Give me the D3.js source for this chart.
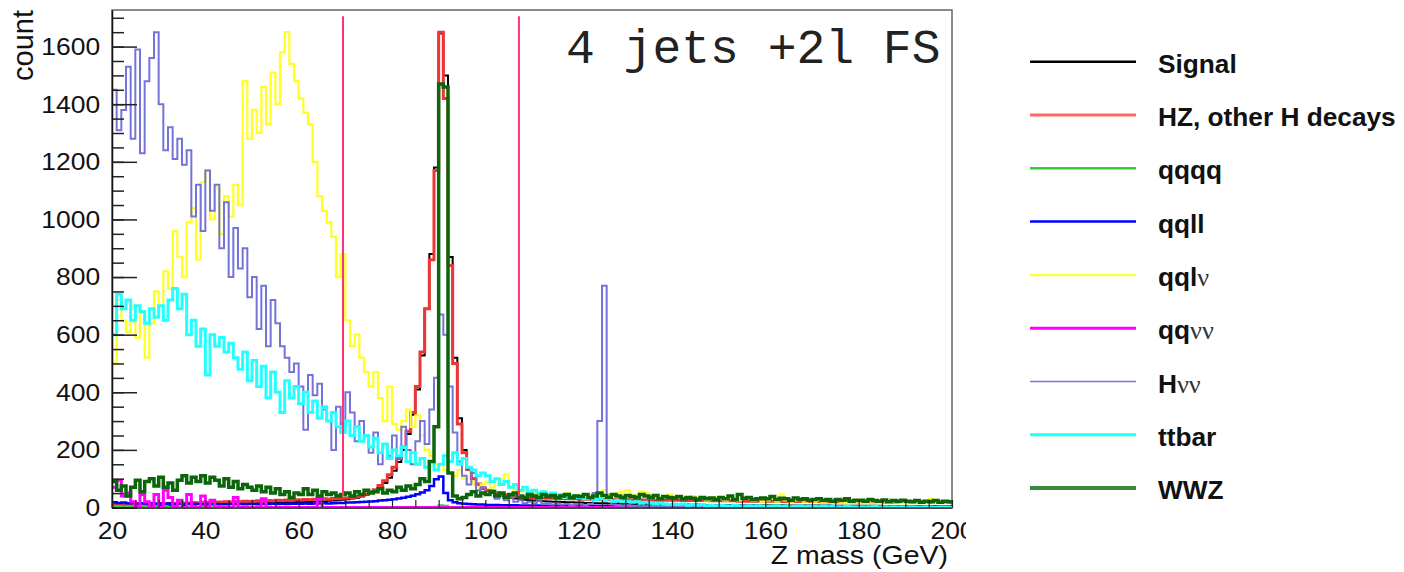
<!DOCTYPE html>
<html><head><meta charset="utf-8">
<script src="https://cdn.jsdelivr.net/npm/d3@7"></script>
<style>body{margin:0;background:#fff} svg{display:block}</style>
</head><body>
<svg id="c" width="1404" height="572"></svg>
<script>
// ---- binning (1 GeV bins, 20..200) ----
const xMin = 20, xMax = 200, binWidth = 1;
const xTicks = [20, 40, 60, 80, 100, 120, 140, 160, 180, 200];
const yTicks = [0, 200, 400, 600, 800, 1000, 1200, 1400, 1600];
const cutLines = [69.5, 107.2];
const cutRange = [40, 1705];
const labelText = "4 jets +2l FS";

const signal = [
 8,6,9,7,8,10,7,9,8,10, 9,11,8,10,12,9,11,10,12,11,
 10,12,11,13,12,14,12,13,15,14, 13,15,14,16,15,17,16,18,17,19,
 18,20,19,21,22,21,23,24,25,27, 29,31,34,38,44,50,58,70,85,103,
 128,158,200,255,322,410,528,690,880,1180, 1645,1500,870,520,310,200,135,100,80,66,
 57,50,45,41,37,34,31,29,27,25, 24,23,22,21,20,20,19,18,18,17,
 17,16,16,15,15,15,14,14,14,13, 13,13,12,12,12,12,11,11,11,11,
 11,10,10,10,10,10,10,9,9,9, 9,9,9,9,9,8,8,8,8,8,
 8,8,8,8,7,7,7,7,7,7, 7,7,7,7,6,6,6,6,6,6,
 6,6,6,6,6,5,5,5,5,5, 5,5,5,5,5,5,5,4,4,4];
const hzOther = [
 10,11,10,12,11,12,13,12,14,13, 14,13,15,14,16,15,16,17,16,18,
 17,18,19,18,20,19,21,20,22,21, 22,23,22,24,23,25,24,26,25,27,
 26,28,27,29,28,30,29,31,30,32, 33,35,38,42,47,54,62,76,93,114,
 140,170,210,265,330,420,540,690,860,1170, 1650,1420,840,500,290,190,132,100,82,68,
 60,54,50,46,43,41,39,37,36,35, 34,33,33,32,32,31,31,30,30,30,
 29,29,29,28,28,28,28,27,27,27, 27,26,26,26,26,26,25,25,25,25,
 25,25,24,24,24,24,24,24,23,23, 23,23,23,23,22,22,22,22,22,22,
 22,22,21,21,21,21,21,21,21,21, 21,21,20,20,20,20,20,20,20,20,
 20,20,20,20,20,19,19,19,19,19, 19,19,19,19,19,19,18,18,18,18];
const qqqq = [
 4,5,3,5,4,3,5,4,3,4, 3,4,3,2,3,2,2,3,2,2,
 2,1,2,2,1,2,1,2,1,2, 1,2,1,1,2,1,1,2,1,1,
 1,2,1,1,1,2,1,1,1,2, 1,1,1,2,1,1,1,1,2,1,
 1,1,2,1,1,1,2,1,2,3, 8,6,2,1,1,1,1,1,1,1,
 1,1,1,1,1,1,0,1,1,0, 1,0,1,1,0,1,0,1,0,1,
 0,1,0,1,0,0,1,0,1,0, 0,1,0,0,1,0,0,1,0,0,
 1,0,0,1,0,0,0,1,0,0, 0,1,0,0,0,1,0,0,0,0,
 1,0,0,0,0,1,0,0,0,0, 0,0,1,0,0,0,0,0,1,0,
 0,0,0,0,1,0,0,0,0,0, 0,0,0,1,0,0,0,0,0,0];
const qqll = [
 18,16,17,15,16,14,15,14,15,13, 14,13,14,12,13,12,13,12,12,11,
 12,11,12,11,11,12,11,12,11,12, 12,11,12,12,13,12,13,12,13,13,
 13,14,13,14,14,15,14,15,16,16, 17,17,18,19,20,21,22,24,25,27,
 29,31,34,37,41,46,52,60,75,98, 108,50,25,18,15,13,12,11,10,10,
 9,9,9,8,8,8,8,7,7,7, 7,7,6,6,6,6,6,6,5,5,
 5,5,5,5,5,5,4,4,4,4, 4,4,4,4,4,4,4,3,3,3,
 3,3,3,3,3,3,3,3,3,3, 3,3,3,3,3,3,3,2,2,2,
 2,2,2,2,2,2,2,2,2,2, 2,2,2,2,2,2,2,2,2,2,
 2,2,2,2,2,2,2,2,2,2, 2,2,2,2,2,2,2,2,2,2];
const qqlv = [
 500,720,650,610,700,590,680,520,640,750, 700,820,760,960,870,800,990,1040,860,1130,
 1170,1000,1110,950,1080,1010,1120,1050,1480,1280, 1380,1300,1460,1330,1510,1400,1580,1650,1540,1480,
 1420,1370,1330,1200,1080,1030,990,940,800,880, 650,560,600,520,470,420,470,380,300,420,
 290,270,300,340,280,320,250,200,180,150, 150,130,120,110,130,100,80,90,70,80,
 90,70,80,100,115,70,60,55,60,50, 50,45,55,40,50,45,35,50,40,45,
 40,45,35,50,40,60,45,40,50,55, 60,45,40,55,50,40,45,35,40,45,
 35,40,30,35,40,30,35,25,30,35, 30,25,35,30,25,30,35,25,30,20,
 25,30,20,45,25,20,25,30,20,25, 20,25,20,30,20,25,20,15,25,20,
 20,15,20,25,15,20,15,20,25,15, 15,20,15,20,15,30,15,20,15,20];
const qqvv = [
 70,95,40,50,20,0,45,20,0,45, 0,60,35,0,25,0,45,0,0,40,
 0,25,0,0,0,0,35,0,0,0, 0,0,30,0,0,0,0,0,0,0,
 0,0,0,0,35,0,0,0,0,0, 0,0,0,0,0,0,0,0,0,0,
 0,0,0,0,0,0,0,0,0,0, 0,0,0,0,0,0,0,0,0,0,
 0,0,0,0,0,0,0,0,0,0, 0,0,0,0,0,0,0,0,0,0,
 0,0,0,0,0,0,0,0,0,0, 0,0,0,0,0,0,0,0,0,0,
 0,0,0,0,0,0,0,0,0,0, 0,0,0,0,0,0,0,0,0,0,
 0,0,0,0,0,0,0,0,0,0, 0,0,0,0,0,0,0,0,0,0,
 0,0,0,0,0,0,0,0,0,0, 0,0,0,0,0,0,0,0,0,0];
const hvv = [
 1450,1310,1380,1530,1280,1590,1230,1480,1560,1650, 1400,1240,1320,1210,1280,1190,1240,1010,1120,960,
 1170,1030,1120,900,1060,800,970,830,900,730, 800,620,770,560,720,640,560,520,470,500,
 420,270,460,390,430,340,300,200,350,290, 400,330,230,300,250,190,260,150,220,180,
 250,170,280,200,150,230,300,220,340,450, 670,600,420,260,160,110,80,120,60,70,
 45,60,30,40,25,35,20,25,15,20, 15,22,12,16,10,14,10,12,8,10,
 10,8,12,50,300,770,30,10,8,6, 8,5,6,4,6,5,3,5,4,3,
 4,3,4,2,3,4,2,3,2,3, 2,3,2,2,3,1,2,2,1,2,
 2,1,2,1,2,1,1,2,1,1, 1,1,0,1,1,0,1,0,1,1,
 0,1,1,0,1,0,0,1,0,1, 1,0,0,1,0,0,1,0,0,1];
const ttbar = [
 600,740,690,720,650,700,680,640,690,660, 700,650,720,760,690,740,600,650,560,620,
 460,600,560,590,540,570,520,480,540,440, 510,420,490,380,470,400,330,440,380,420,
 360,400,330,370,310,350,300,330,280,260, 300,250,280,230,250,210,240,190,220,170,
 200,180,210,160,190,150,170,140,160,130, 150,180,160,190,150,170,140,130,110,120,
 110,90,100,80,90,70,80,60,70,55, 60,50,55,45,50,40,45,35,40,35,
 35,30,35,28,30,25,30,22,25,20, 22,18,20,15,18,15,12,15,12,10,
 12,10,12,8,10,8,10,6,8,6, 8,6,5,8,6,5,6,4,6,5,
 4,5,6,4,5,3,4,5,3,4, 4,3,5,3,4,3,2,4,3,2,
 3,2,3,4,2,3,2,3,2,3, 2,3,2,2,3,2,1,2,2,1];
const wwz = [
 90,60,75,40,70,95,55,90,100,75, 105,70,85,60,95,110,85,105,90,110,
 85,105,95,75,100,70,90,65,80,70, 60,75,55,70,50,65,45,55,35,50,
 45,65,45,60,40,55,45,50,40,45, 50,40,55,45,60,50,55,65,50,60,
 55,70,60,75,65,80,100,90,160,280, 1470,1460,120,40,30,35,45,55,40,50,
 45,55,40,50,35,45,50,40,35,45, 40,35,45,38,42,35,40,45,35,40,
 38,45,35,40,50,42,36,45,40,35, 42,38,35,45,40,36,42,30,38,35,
 33,38,30,35,32,28,35,30,33,28, 35,30,40,28,45,32,35,28,30,33,
 30,38,28,32,30,25,33,28,30,25, 28,30,25,28,22,28,25,30,22,25,
 25,22,28,24,22,26,20,24,22,25, 22,20,24,18,22,20,24,18,22,20];

const seriesNames = ["Signal", "HZ, other H decays", "qqqq", "qqll", "qqlν", "qqνν", "Hνν", "ttbar", "WWZ"];
const seriesValues = [signal, hzOther, qqqq, qqll, qqlv, qqvv, hvv, ttbar, wwz];
const seriesColors = ["#000000", "#ee3535", "#33cc33", "#0000ff", "#ffff22", "#ff00ff", "#7474d8", "#22ffff", "#0b650b"];
const seriesWidths = [2, 3, 2, 2.5, 2.2, 3, 2, 3, 3.5];
const legendColors = ["#000000", "#ff6666", "#33cc33", "#0000ff", "#ffff44", "#ff00ff", "#7777dd", "#22ffff", "#3a8a3a"];
const legendWidths = [2.5, 3, 2.5, 2.5, 2.5, 3, 1.5, 3, 4];

// ---- layout ----
const svg = d3.select("#c");
const L = 112, R = 952, T = 10, B = 507.5;
const x = d3.scaleLinear().domain([xMin, xMax]).range([L, R]);
const y = d3.scaleLinear().domain([0, 1727]).range([B, T]);

svg.append("defs").append("clipPath").attr("id", "frame")
  .append("rect").attr("x", L).attr("y", T).attr("width", R - L).attr("height", B - T);
svg.select("defs").append("clipPath").attr("id", "labclip")
  .append("rect").attr("x", 0).attr("y", 0).attr("width", 966).attr("height", 572);

// frame
svg.append("rect").attr("x", L).attr("y", T).attr("width", R - L).attr("height", B - T)
  .attr("fill", "none").attr("stroke", "#666").attr("stroke-width", 1.5);

// histograms
const plot = svg.append("g").attr("clip-path", "url(#frame)");
const line = d3.line().x(d => x(d[0])).y(d => y(d[1])).curve(d3.curveStepAfter);
seriesValues.forEach((vals, k) => {
  const pts = vals.map((v, i) => [xMin + i * binWidth, v]);
  pts.push([xMin + vals.length * binWidth, vals[vals.length - 1]]);
  plot.append("path").attr("d", line(pts)).attr("fill", "none")
    .attr("stroke", seriesColors[k]).attr("stroke-width", seriesWidths[k])
    .attr("stroke-linejoin", "miter");
});

// cut lines
cutLines.forEach(c => {
  svg.append("line").attr("x1", x(c)).attr("x2", x(c))
    .attr("y1", y(cutRange[0])).attr("y2", y(cutRange[1]))
    .attr("stroke", "#ff3377").attr("stroke-width", 2);
});

// axes
const fontSans = "'Liberation Sans', Arial, Helvetica, sans-serif";
const yMinor = d3.range(0, 1727, 50);
svg.append("g").attr("transform", `translate(${L},0)`)
  .call(d3.axisLeft(y).tickValues(yMinor).tickSize(-12).tickSizeOuter(0).tickFormat(""))
  .call(g => g.select(".domain").remove())
  .selectAll("line").attr("stroke", "#222").attr("stroke-width", 1.5);
const yAx = svg.append("g").attr("transform", `translate(${L},0)`)
  .call(d3.axisLeft(y).tickValues(yTicks).tickSize(-25).tickSizeOuter(0).tickPadding(11).tickFormat(d3.format("d")));
yAx.select(".domain").attr("stroke", "#111").attr("stroke-width", 1.5);
yAx.selectAll("line").attr("stroke", "#222").attr("stroke-width", 1.5);
yAx.selectAll("text").attr("font-family", fontSans).attr("font-size", 24.5).attr("fill", "#111")
  .attr("transform", "scale(1.08,1)");

const xMinor = d3.range(20, 201, 5);
svg.append("g").attr("transform", `translate(0,${B})`)
  .call(d3.axisBottom(x).tickValues(xMinor).tickSize(-7.5).tickSizeOuter(0).tickFormat(""))
  .call(g => g.select(".domain").remove())
  .selectAll("line").attr("stroke", "#222").attr("stroke-width", 1.2);
const xAx = svg.append("g").attr("transform", `translate(0,${B})`).attr("clip-path", "url(#labclip)")
  .call(d3.axisBottom(x).tickValues(xTicks).tickSize(-15).tickSizeOuter(0).tickPadding(14).tickFormat(d3.format("d")));
xAx.select(".domain").attr("stroke", "#111").attr("stroke-width", 1.5);
xAx.selectAll("line").attr("stroke", "#222").attr("stroke-width", 1.2);
xAx.selectAll("text").attr("font-family", fontSans).attr("font-size", 24.5).attr("fill", "#111")
  .attr("transform", "scale(1.08,1)");

// axis titles
svg.append("text").attr("transform", "translate(948,564) scale(1.14,1)")
  .attr("text-anchor", "end").attr("font-family", fontSans).attr("font-size", 25).attr("fill", "#111")
  .text("Z mass (GeV)");
svg.append("text").attr("transform", "translate(33,10) rotate(-90)")
  .attr("text-anchor", "end").attr("font-family", fontSans).attr("font-size", 29).attr("fill", "#111")
  .text("count");

// label
svg.append("text").attr("x", 566).attr("y", 63)
  .attr("font-family", "'Liberation Mono', 'Courier New', monospace").attr("font-size", 48).attr("fill", "#222")
  .text(labelText);

// legend
const lg = svg.append("g");
seriesNames.forEach((name, k) => {
  const ly = 61.7 + k * 53.3;
  lg.append("line").attr("x1", 1030).attr("x2", 1136).attr("y1", ly).attr("y2", ly)
    .attr("stroke", legendColors[k]).attr("stroke-width", legendWidths[k]);
  const t = lg.append("text").attr("transform", `translate(1158,${ly + 11}) scale(1.05,1)`)
    .attr("font-family", fontSans).attr("font-size", 25).attr("font-weight", "bold").attr("fill", "#111");
  const parts = name.split(/(ν+)/).filter(s => s.length);
  parts.forEach(p => {
    const ts = t.append("tspan").text(p);
    if (p.includes("ν")) ts.attr("font-family", "'Liberation Serif', 'DejaVu Serif', serif").attr("font-weight", "normal").attr("fill", "#333");
  });
});
</script>
</body></html>
